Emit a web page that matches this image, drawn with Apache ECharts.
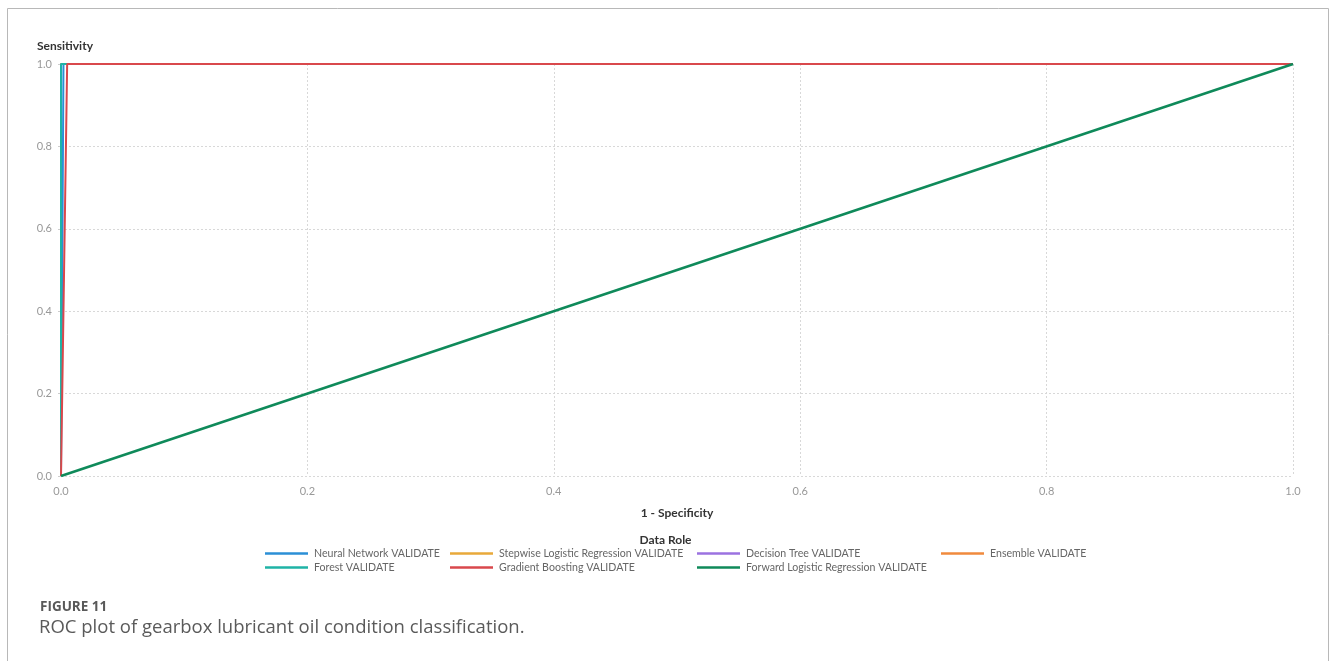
<!DOCTYPE html>
<html>
<head>
<meta charset="utf-8">
<script src="https://cdn.jsdelivr.net/npm/echarts@6/dist/echarts.min.js"></script>
<style>
  html, body { margin: 0; padding: 0; background: #fff; }
  #chart { width: 1331px; height: 661px; }
</style>
</head>
<body>
<div id="chart"></div>
<script>
// ROC curves (1 - specificity, sensitivity) per model, validation partition
const seriesNames = [
  'Neural Network VALIDATE',
  'Stepwise Logistic Regression VALIDATE',
  'Decision Tree VALIDATE',
  'Ensemble VALIDATE',
  'Forest VALIDATE',
  'Gradient Boosting VALIDATE',
  'Forward Logistic Regression VALIDATE'
];
const seriesColors = ['#2b8fd6', '#e8a93a', '#9b72e0', '#f08a3d', '#1fb3a6', '#d9484c', '#0f8a5a'];

const neuralFpr = [0, 0.002, 1];
const neuralTpr = [0, 1, 1];
const stepwiseFpr = [0, 0, 1];
const stepwiseTpr = [0, 1, 1];
const treeFpr = [0, 0, 1];
const treeTpr = [0, 1, 1];
const ensembleFpr = [0, 0, 1];
const ensembleTpr = [0, 1, 1];
const forestFpr = [0, 0, 1];
const forestTpr = [0, 1, 1];
const boostingFpr = [0, 0.005, 1];
const boostingTpr = [0, 1, 1];
const forwardFpr = [0, 1];
const forwardTpr = [0, 1];

const curves = [
  [neuralFpr, neuralTpr],
  [stepwiseFpr, stepwiseTpr],
  [treeFpr, treeTpr],
  [ensembleFpr, ensembleTpr],
  [forestFpr, forestTpr],
  [boostingFpr, boostingTpr],
  [forwardFpr, forwardTpr]
];

const font = 'Lato, "Open Sans", sans-serif';
const captionFont = '"Open Sans", sans-serif';

const chart = echarts.init(document.getElementById('chart'), null, { renderer: 'canvas' });

const series = curves.map((c, i) => ({
  name: seriesNames[i],
  type: 'line',
  symbol: 'none',
  color: seriesColors[i],
  lineStyle: { width: i === 6 ? 2.6 : 2, color: seriesColors[i] },
  data: c[0].map((x, k) => [x, c[1][k]]),
  z: 2 + i,
  animation: false
}));

const legendCommon = {
  orient: 'vertical',
  icon: 'rect',
  itemWidth: 43,
  itemHeight: 2.5,
  itemGap: 3,
  selectedMode: false,
  textStyle: { color: '#666', fontSize: 10.6, fontFamily: font, padding: [0, 0, 0, 1] },
  padding: 0
};

const option = {
  backgroundColor: '#fff',
  animation: false,
  grid: { left: 61, right: 38, top: 64, bottom: 185, containLabel: false },
  xAxis: {
    type: 'value', min: 0, max: 1, interval: 0.2,
    name: '1 - Specificity', nameLocation: 'middle', nameGap: 31,
    nameTextStyle: { color: '#333', fontSize: 12, fontWeight: 'bold', fontFamily: font },
    axisLine: { show: false },
    axisTick: { show: false },
    axisLabel: { color: '#999', fontSize: 11, fontFamily: font, margin: 10,
      formatter: v => v.toFixed(1) },
    splitLine: { show: true, lineStyle: { color: '#d8d8d8', type: [2, 2], width: 1 } }
  },
  yAxis: {
    type: 'value', min: 0, max: 1, interval: 0.2,
    name: 'Sensitivity', nameLocation: 'end', nameGap: 12,
    nameTextStyle: { color: '#333', fontSize: 12, fontWeight: 'bold', fontFamily: font, align: 'left', padding: [0, 0, 0, -24] },
    axisLine: { show: false },
    axisTick: { show: true, length: 3, lineStyle: { color: '#ccc' } },
    axisLabel: { color: '#999', fontSize: 11, fontFamily: font, margin: 9,
      formatter: v => v.toFixed(1) },
    splitLine: { show: true, lineStyle: { color: '#d8d8d8', type: [2, 2], width: 1 } }
  },
  legend: [
    Object.assign({}, legendCommon, { left: 265, top: 548, data: [seriesNames[0], seriesNames[4]] }),
    Object.assign({}, legendCommon, { left: 450, top: 548, data: [seriesNames[1], seriesNames[5]] }),
    Object.assign({}, legendCommon, { left: 697, top: 548, data: [seriesNames[2], seriesNames[6]] }),
    Object.assign({}, legendCommon, { left: 941, top: 548, data: [seriesNames[3]] })
  ],
  graphic: [
    { type: 'polyline', silent: true,
      shape: { points: [[7.5, 661], [7.5, 8.5], [1328.5, 8.5], [1328.5, 661]] },
      style: { stroke: '#b8b8b8', lineWidth: 1, fill: null } },
    { type: 'text', left: 'center', top: 534,
      style: { text: 'Data Role', fill: '#333', font: 'bold 12px ' + font } },
    { type: 'text', left: 40, top: 600,
      style: { text: 'FIGURE 11', fill: '#595959', font: 'bold 13.5px ' + captionFont } },
    { type: 'text', left: 39, top: 618,
      style: { text: 'ROC plot of gearbox lubricant oil condition classification.', fill: '#5a5a5a', font: '18.5px ' + captionFont } }
  ],
  series: series
};

chart.setOption(option);
</script>
</body>
</html>
